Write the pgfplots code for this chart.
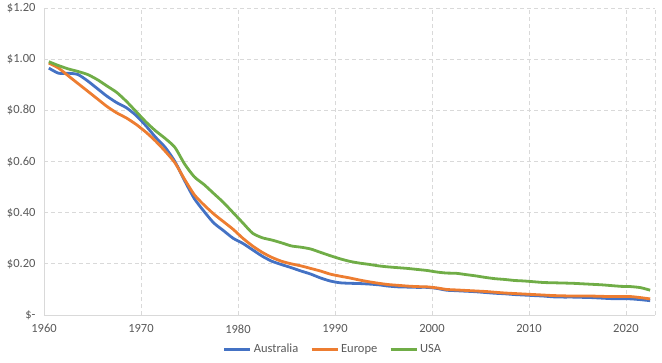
\documentclass[border=0pt]{standalone}
\usepackage{pgfplots}
\pgfplotsset{compat=1.18}
\usepackage{pgfplotstable}
\usepackage{fontspec}
\setmainfont{Carlito}
\definecolor{cAus}{HTML}{4472C4}
\definecolor{cEur}{HTML}{ED7D31}
\definecolor{cUsa}{HTML}{70AD47}
\definecolor{gridc}{HTML}{D9D9D9}
\definecolor{txt}{HTML}{595959}

\pgfplotstableread{
year aus eur usa
1960.5 0.965 0.985 0.990
1961.5 0.945 0.965 0.975
1962.5 0.945 0.935 0.962
1963.5 0.940 0.905 0.952
1964.5 0.915 0.875 0.940
1965.5 0.885 0.845 0.920
1966.5 0.855 0.815 0.895
1967.5 0.830 0.790 0.870
1968.5 0.810 0.770 0.835
1969.5 0.780 0.745 0.795
1970.5 0.740 0.715 0.755
1971.5 0.695 0.680 0.720
1972.5 0.655 0.640 0.690
1973.5 0.600 0.595 0.655
1974.5 0.525 0.530 0.590
1975.5 0.455 0.470 0.540
1976.5 0.405 0.430 0.510
1977.5 0.360 0.395 0.475
1978.5 0.330 0.365 0.440
1979.5 0.300 0.335 0.400
1980.5 0.280 0.300 0.360
1981.5 0.255 0.270 0.320
1982.5 0.230 0.245 0.302
1983.5 0.210 0.225 0.293
1984.5 0.197 0.210 0.282
1985.5 0.185 0.200 0.270
1986.5 0.172 0.192 0.265
1987.5 0.160 0.182 0.258
1988.5 0.145 0.172 0.245
1989.5 0.133 0.160 0.232
1990.5 0.126 0.152 0.220
1991.5 0.124 0.145 0.210
1992.5 0.123 0.137 0.203
1993.5 0.121 0.130 0.198
1994.5 0.118 0.124 0.192
1995.5 0.113 0.119 0.188
1996.5 0.110 0.116 0.185
1997.5 0.109 0.113 0.182
1998.5 0.108 0.111 0.178
1999.5 0.108 0.110 0.174
2000.5 0.104 0.106 0.168
2001.5 0.097 0.100 0.164
2002.5 0.095 0.098 0.163
2003.5 0.093 0.096 0.158
2004.5 0.091 0.094 0.153
2005.5 0.088 0.092 0.147
2006.5 0.085 0.089 0.142
2007.5 0.083 0.086 0.139
2008.5 0.080 0.084 0.135
2009.5 0.078 0.082 0.133
2010.5 0.076 0.080 0.130
2011.5 0.074 0.078 0.127
2012.5 0.071 0.076 0.126
2013.5 0.070 0.075 0.125
2014.5 0.070 0.074 0.124
2015.5 0.069 0.074 0.122
2016.5 0.068 0.074 0.120
2017.5 0.066 0.073 0.118
2018.5 0.064 0.072 0.115
2019.5 0.064 0.072 0.112
2020.5 0.063 0.072 0.111
2021.5 0.060 0.068 0.107
2022.5 0.056 0.063 0.097
}\datatable

\begin{document}
\begin{tikzpicture}
\begin{axis}[
  name=ax,
  scale only axis,
  width=611pt, height=307pt,
  xmin=1960, xmax=2023,
  ymin=0, ymax=1.2,
  xtick={1960,1970,1980,1990,2000,2010,2020},
  xticklabels={1960,1970,1980,1990,2000,2010,2020},
  ytick={0,0.2,0.4,0.6,0.8,1.0,1.2},
  yticklabels={\$-,\$0.20,\$0.40,\$0.60,\$0.80,\$1.00,\$1.20},
  extra x ticks={2023},
  extra x tick labels={},
  extra x tick style={grid=major},
  major tick length=0pt,
  grid=major,
  major grid style={gridc, dash pattern=on 4pt off 3pt, line width=0.75pt},
  axis x line*=bottom,
  axis y line*=left,
  x axis line style={draw=gridc, line width=0.9pt, -},
  y axis line style={draw=gridc, line width=0.9pt, -},
  tick label style={font=\fontsize{12.5}{14}\selectfont, text=txt},
  xticklabel style={yshift=-6pt},
  yticklabel style={xshift=-5pt},
  legend style={
    draw=none, fill=none,
    at={(0.473,-0.085)}, anchor=north,
    legend columns=3,
    font=\fontsize{12.5}{14}\selectfont,
    text=txt,
    inner sep=1pt,
    /tikz/every even column/.append style={column sep=10pt},
  },
  legend cell align=left,
  legend image code/.code={\draw[#1, line width=2.8pt] (0pt,0pt) -- (26pt,0pt);},
  every axis plot/.append style={line width=2.8pt, line join=round, smooth, tension=0.4},
]
\addplot[cAus, no marks] table[x=year, y=aus] {\datatable};
\addplot[cEur, no marks] table[x=year, y=eur] {\datatable};
\addplot[cUsa, no marks] table[x=year, y=usa] {\datatable};
\legend{Australia,Europe,USA}
\end{axis}
\pgfresetboundingbox
\path[use as bounding box] ([xshift=-44pt,yshift=-47pt]ax.south west) rectangle ([xshift=7pt,yshift=8pt]ax.north east);
\end{tikzpicture}
\end{document}
